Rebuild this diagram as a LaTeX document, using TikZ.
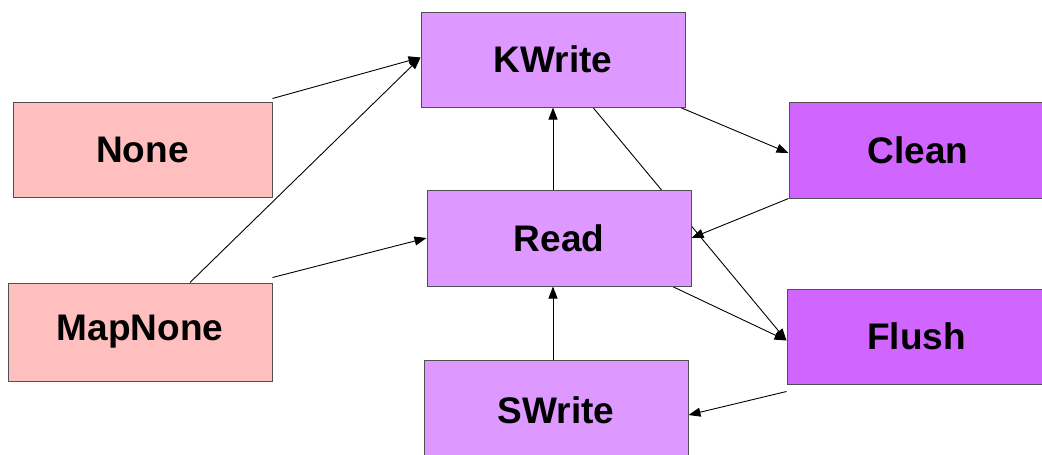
\documentclass[tikz,border=0pt]{standalone}
\usepackage{fontspec}
\setmainfont{Liberation Sans}
\usetikzlibrary{arrows.meta,backgrounds}
\definecolor{pinkfill}{HTML}{FFBFBF}
\definecolor{lilac}{HTML}{DD99FF}
\definecolor{violet}{HTML}{D066FF}
\definecolor{edgegray}{HTML}{505050}
\tikzset{
  state/.style={draw=edgegray, line width=1pt, inner sep=0pt,
    font=\fontsize{37}{44}\selectfont\bfseries},
  idle/.style={state, fill=pinkfill},
  access/.style={state, fill=lilac},
  flushing/.style={state, fill=violet},
  trans/.style={line width=0.9pt, -{Triangle[length=12pt,width=9pt]}}
}
\begin{document}
\begin{tikzpicture}[x=1pt,y=-1pt]
  \useasboundingbox (0,0) rectangle (1042,455);
  \clip (0,0) rectangle (1042,455);

  % states
  \node[idle, minimum width=259pt, minimum height=95pt] (None) at (142.5,149.5) {None};
  \node[idle, minimum width=264pt, minimum height=98pt] (MapNone) at (140,332) {MapNone};
  \node[access, minimum width=264pt, minimum height=95pt] (KWrite) at (553,59.5) {KWrite};
  \node[access, minimum width=264pt, minimum height=96pt] (Read) at (559,238) {Read};
  \node[access, minimum width=264pt, minimum height=100pt] (SWrite) at (556,410) {SWrite};
  \node[flushing, minimum width=258pt, minimum height=96pt] (Clean) at (918,150) {Clean};
  \node[flushing, minimum width=259pt, minimum height=95pt] (Flush) at (916.5,336.5) {Flush};

  % transitions, kept behind the boxes
  \begin{pgfonlayer}{background}
    \draw[trans] ([yshift=3pt]None.north east) -- ([yshift=2pt]KWrite.west);
    \draw[trans] ([xshift=50pt]MapNone.north) -- ([yshift=2pt]KWrite.west);
    \draw[trans] ([yshift=5pt]MapNone.north east) -- (Read.west);
    \draw[trans] ([xshift=-6pt]Read.north) -- (KWrite.south);
    \draw[trans] ([xshift=-5pt]KWrite.south east) -- ([yshift=-3pt]Clean.west);
    \draw[trans] (Clean.south west) -- (Read.east);
    \draw[trans] ([xshift=40pt]KWrite.south) -- ([yshift=-4pt]Flush.west);
    \draw[trans] ([xshift=-19pt]Read.south east) -- ([yshift=-4pt]Flush.west);
    \draw[trans] ([xshift=-3pt]SWrite.north) -- ([xshift=-6pt]Read.south);
    \draw[trans] ([yshift=-7pt]Flush.south west) -- ([yshift=-5pt]SWrite.east);
  \end{pgfonlayer}
\end{tikzpicture}
\end{document}
